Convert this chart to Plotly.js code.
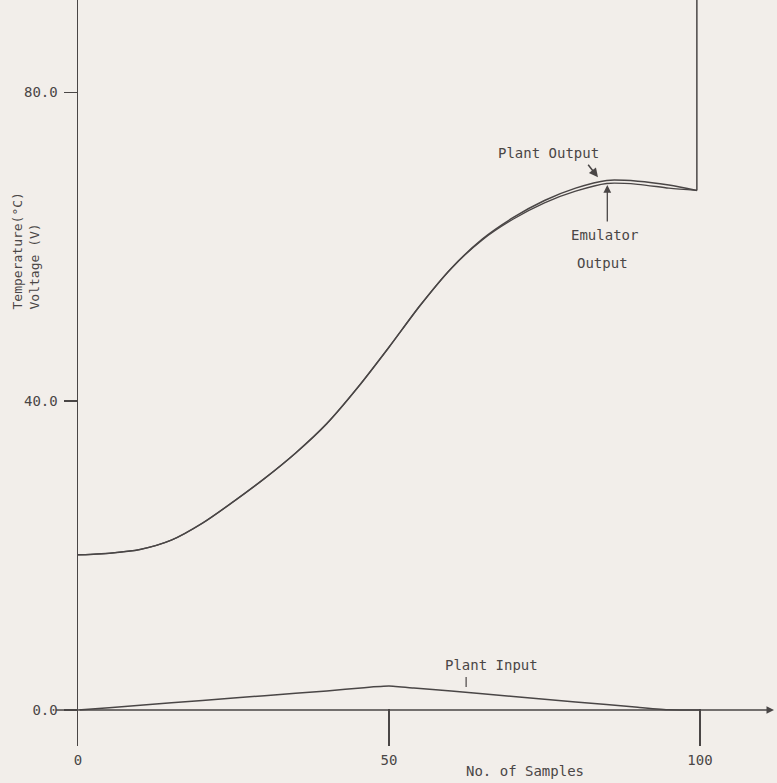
<!DOCTYPE html>
<html>
<head>
<meta charset="utf-8">
<script src="https://cdn.plot.ly/plotly-3.0.1.min.js"></script>
<style>html,body{margin:0;padding:0;background:#f2eeea;}</style>
</head>
<body>
<div id="chart" style="width:777px;height:783px;"></div>
<script>
// ---- data ----
const samples      = [0, 2, 5, 10, 15, 20, 25, 30, 35, 40, 45, 50, 55, 60, 65, 70, 75, 80, 85, 90, 95, 99.5];
const plantOutput  = [20.1, 20.15, 20.3, 20.8, 22.0, 24.2, 27.0, 30.0, 33.3, 37.1, 41.8, 47.0, 52.4, 57.2, 61.0, 63.8, 66.0, 67.6, 68.6, 68.5, 68.0, 67.3];
const jumpSamples  = [99.5, 99.5];
const jumpValues   = [67.3, 95];
const emulatorOut  = [20.1, 20.15, 20.3, 20.8, 22.0, 24.2, 27.0, 30.0, 33.3, 37.1, 41.8, 47.0, 52.4, 57.2, 60.9, 63.6, 65.7, 67.2, 68.2, 68.1, 67.6, 67.3];
const inputSamples = [0, 5, 10, 20, 30, 40, 46, 50, 54, 60, 70, 80, 90, 95, 100];
const plantInput   = [0, 0.3, 0.62, 1.24, 1.86, 2.48, 2.9, 3.1, 2.85, 2.45, 1.75, 1.05, 0.35, 0.02, 0];
const xTickVals = [0, 50, 100];
const xTickText = ['0', '50', '100'];
const yTickVals = [0, 40, 80];
const yTickText = ['0.0', '40.0', '80.0'];

const ink = '#4a4646';
const FONT = 'DejaVu Sans Mono, Liberation Mono, monospace';

const traces = [
  {x: samples, y: plantOutput, mode: 'lines', line: {color: ink, width: 1.5, shape: 'spline', smoothing: 0.8}, name: 'Plant Output', hoverinfo: 'skip'},
  {x: jumpSamples, y: jumpValues, mode: 'lines', line: {color: ink, width: 1.5}, name: 'Plant Output end', hoverinfo: 'skip'},
  {x: samples, y: emulatorOut, mode: 'lines', line: {color: ink, width: 1.3, shape: 'spline', smoothing: 0.8}, name: 'Emulator Output', hoverinfo: 'skip'},
  {x: inputSamples, y: plantInput, mode: 'lines', line: {color: ink, width: 1.5, shape: 'spline', smoothing: 0.4}, name: 'Plant Input', hoverinfo: 'skip'}
];

const layout = {
  width: 777, height: 783,
  margin: {l: 78, r: 3, t: 0, b: 37},
  paper_bgcolor: '#f2eeea',
  plot_bgcolor: '#f2eeea',
  showlegend: false,
  font: {family: FONT, size: 14, color: '#4a4646'},
  xaxis: {
    range: [0, 111.9], showgrid: false, zeroline: false, showline: false,
    tickmode: 'array', tickvals: xTickVals, ticktext: xTickText,
    ticks: 'inside', ticklen: 37, tickwidth: 1.5, tickcolor: ink,
    ticklabelstandoff: 4,
    tickfont: {family: FONT, size: 14, color: '#4a4646'}
  },
  yaxis: {
    range: [-4.66, 91.97], showgrid: false, zeroline: false,
    showline: true, linecolor: ink, linewidth: 1.5,
    tickmode: 'array', tickvals: yTickVals, ticktext: yTickText,
    ticks: 'outside', ticklen: 13, tickwidth: 1.5, tickcolor: ink,
    ticklabelstandoff: 3,
    tickfont: {family: FONT, size: 14, color: '#4a4646'}
  },
  shapes: [
    {type: 'line', xref: 'paper', yref: 'y', x0: -0.032, x1: 0, y0: 0, y1: 0, line: {color: ink, width: 1.5}},
    {type: 'line', xref: 'x', yref: 'y', x0: 62.4, x1: 62.4, y0: 4.27, y1: 2.98, line: {color: ink, width: 1.2}}
  ],
  annotations: [
    // x axis line with arrow
    {x: 111.9, y: 0, xref: 'x', yref: 'y', ax: 0, ay: 0, axref: 'x', ayref: 'y', text: '',
     showarrow: true, arrowhead: 2, arrowsize: 1, arrowwidth: 1.5, arrowcolor: ink, standoff: 0},
    {x: 71.9, y: -0.034, xref: 'x', yref: 'paper', xanchor: 'center', yanchor: 'middle', text: 'No. of Samples', showarrow: false,
     font: {family: FONT, size: 14, color: '#4a4646'}},
    {x: -0.075, y: 59.5, xref: 'paper', yref: 'y', xanchor: 'center', yanchor: 'middle', text: 'Temperature(°C)<br>Voltage (V)', showarrow: false,
     textangle: -90, align: 'left', font: {family: FONT, size: 13, color: '#4a4646'}},
    {x: 66.4, y: 5.83, xref: 'x', yref: 'y', text: 'Plant Input', showarrow: false,
     font: {family: FONT, size: 14, color: '#4a4646'}},
    {x: 75.6, y: 72.2, xref: 'x', yref: 'y', text: 'Plant Output', showarrow: false,
     font: {family: FONT, size: 14, color: '#4a4646'}},
    {x: 83.6, y: 69.0, xref: 'x', yref: 'y', ax: -11, ay: -14, text: '', showarrow: true,
     arrowhead: 2, arrowsize: 1.2, arrowwidth: 1.5, arrowcolor: ink},
    {x: 84.6, y: 61.5, xref: 'x', yref: 'y', text: 'Emulator', showarrow: false,
     font: {family: FONT, size: 14, color: '#4a4646'}},
    {x: 84.4, y: 57.9, xref: 'x', yref: 'y', text: 'Output', showarrow: false,
     font: {family: FONT, size: 14, color: '#4a4646'}},
    {x: 85.1, y: 68.0, xref: 'x', yref: 'y', ax: 0, ay: 38, text: '', showarrow: true,
     arrowhead: 2, arrowsize: 1.2, arrowwidth: 1.3, arrowcolor: ink}
  ]
};

Plotly.newPlot('chart', traces, layout, {displayModeBar: false, staticPlot: true});
</script>
</body>
</html>
